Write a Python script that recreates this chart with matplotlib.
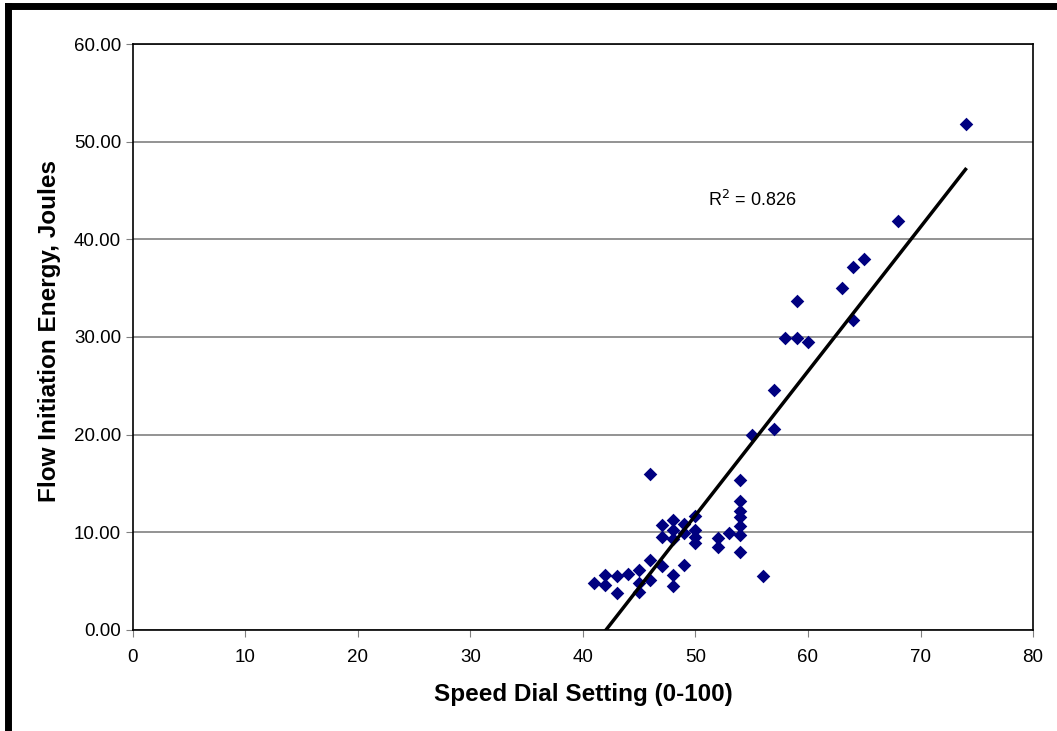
import numpy as np
import matplotlib.pyplot as plt
from matplotlib.lines import Line2D

plt.rcParams['font.family'] = ['Liberation Sans', 'DejaVu Sans']

# speed dial setting vs. flow initiation energy (J)
speed = [41, 42, 42, 43, 43, 44, 45, 45, 45, 46, 46, 46,
         47, 47, 47, 48, 48, 48, 48, 48, 49, 49, 49,
         50, 50, 50, 50, 52, 52, 53, 54, 54, 54, 54, 54, 54, 54,
         55, 56, 57, 57, 58, 59, 59, 60, 63, 64, 64, 65, 68, 74]
energy = [4.85, 5.6, 4.6, 5.5, 3.8, 5.7, 6.1, 4.85, 3.9, 7.2, 5.1, 16.0,
          6.5, 10.75, 9.55, 5.6, 4.5, 11.3, 10.2, 9.3, 6.65, 10.9, 9.9,
          11.7, 10.2, 9.55, 8.9, 9.45, 8.5, 9.9, 15.4, 13.2, 12.2, 11.6, 10.6, 9.7, 8.0,
          20.0, 5.5, 24.6, 20.6, 29.9, 33.7, 29.9, 29.5, 35.0, 37.2, 31.7, 38.0, 41.9, 51.8]

x = np.array(speed, dtype=float)
y = np.array(energy)
slope, icept = np.polyfit(x, y, 1)
xf = np.array([x.min(), x.max()])

fig = plt.figure(figsize=(10.57, 7.31), dpi=100)
ax = fig.add_axes([0.1258, 0.1382, 0.8515, 0.8016])

ax.grid(axis='y', color='#808080', lw=1.2)
ax.set_axisbelow(True)
ax.scatter(x, y, marker='D', s=48, color='#000080', zorder=3, lw=0)
ax.plot(xf, slope * xf + icept, color='black', lw=2.5, zorder=4)
ax.text(51.1, 44.0, r'R$^2$ = 0.826', fontsize=13, va='center', ha='left')

ax.set_xlim(0, 80)
ax.set_ylim(0, 60)
ax.set_xticks(range(0, 81, 10))
ax.set_yticks(range(0, 61, 10))
ax.yaxis.set_major_formatter(lambda v, p: f'{v:.2f}')
ax.tick_params(labelsize=13.5, direction='out', length=5, color='#808080')
ax.tick_params(axis='x', pad=9)
for s in ax.spines.values():
    s.set_color('black')
    s.set_linewidth(1.2)

ax.set_xlabel('Speed Dial Setting (0-100)', fontsize=17.5, fontweight='bold', labelpad=12)
ax.set_ylabel('Flow Initiation Energy, Joules', fontsize=17.5, fontweight='bold')
ax.yaxis.set_label_coords(-0.080, 0.51)

# heavy frame along the top and left edge
fig.add_artist(Line2D([0.008, 0.998], [0.992, 0.992], color='black', lw=5, transform=fig.transFigure))
fig.add_artist(Line2D([0.008, 0.008], [0.0, 0.992], color='black', lw=5, transform=fig.transFigure))

fig.savefig('out.png', dpi=100)
